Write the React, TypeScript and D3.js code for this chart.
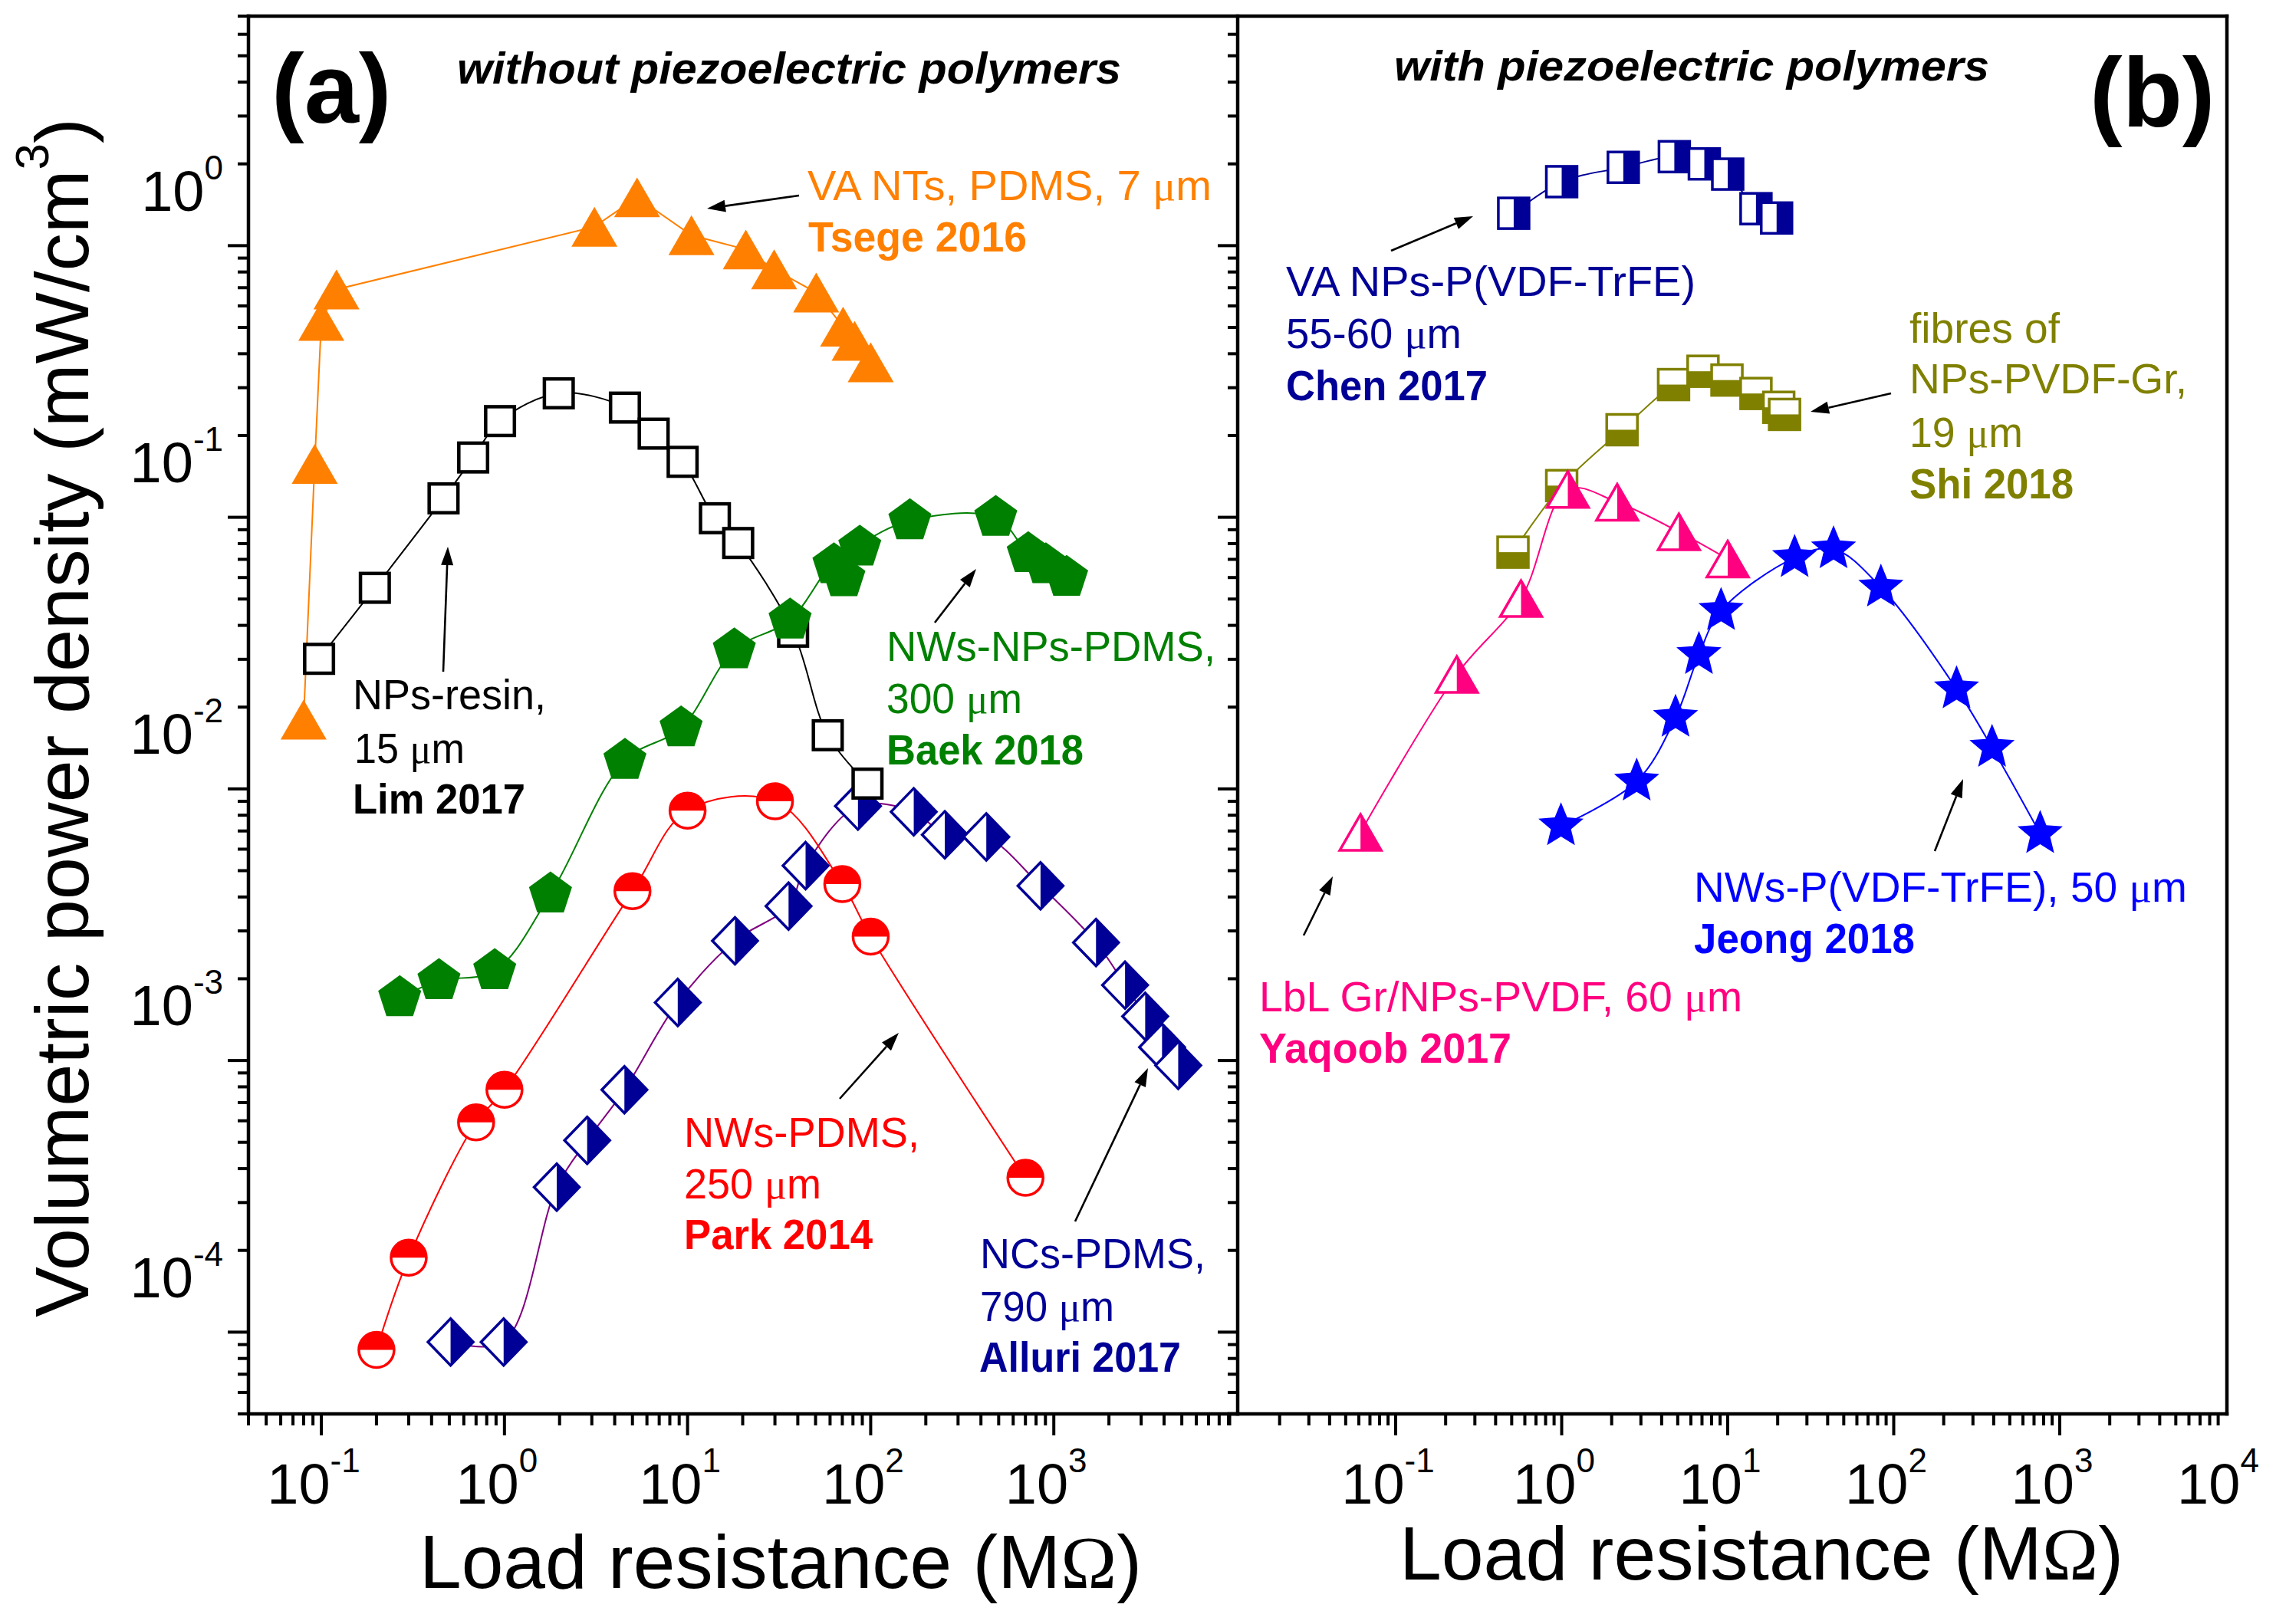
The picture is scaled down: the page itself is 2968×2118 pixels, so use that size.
import React from "react";
import * as d3 from "d3";

// ---------------- data: load resistance (MΩ) vs volumetric power density (mW/cm³) ----------------
// Panel (a) – without piezoelectric polymers
const tsegeX = [0.08, 0.092, 0.1, 0.121, 3.1, 5.3, 10.5, 20.8, 29.7, 50.4, 70.7, 81.7, 100];
const tsegeY = [0.009, 0.0786, 0.264, 0.345, 0.587, 0.753, 0.546, 0.484, 0.409, 0.336, 0.2515, 0.223, 0.186];

const limX = [0.0972, 0.196, 0.465, 0.675, 0.946, 1.98, 4.55, 6.53, 9.4, 14.1, 18.9, 37.7, 58.3, 96.1];
const limY = [0.01506, 0.0275, 0.0587, 0.083, 0.113, 0.143, 0.1267, 0.1016, 0.08, 0.0496, 0.0402, 0.01895, 0.00788, 0.00523];

const baekX = [0.268, 0.439, 0.885, 1.784, 4.55, 9.22, 18.0, 36.3, 63, 71.4, 87.2, 163.7, 482, 725, 905, 1175];
const baekY = [8.51e-4, 9.83e-4, 1.07e-3, 2.05e-3, 6.36e-3, 8.38e-3, 0.01624, 0.0209, 0.0334, 0.0299, 0.0388, 0.0485, 0.0499, 0.0367, 0.0334, 0.03];

const parkX = [0.2, 0.3, 0.7, 1.0, 5.0, 10, 30, 70, 100, 700];
const parkY = [4.3e-5, 9.4e-5, 2.96e-4, 3.9e-4, 2.1e-3, 4.16e-3, 4.5e-3, 2.23e-3, 1.43e-3, 1.85e-4];

const alluriX = [0.508, 0.99, 1.93, 2.83, 4.52, 8.84, 18.15, 35.6, 44.1, 85.2, 171.8, 254, 428, 846, 1700, 2450, 3155, 3900, 4780];
const alluriY = [4.6e-5, 4.6e-5, 1.71e-4, 2.54e-4, 3.9e-4, 8.18e-4, 1.38e-3, 1.85e-3, 2.61e-3, 4.32e-3, 4.12e-3, 3.39e-3, 3.33e-3, 2.2e-3, 1.36e-3, 9.47e-4, 7.27e-4, 5.6e-4, 4.8e-4];

// Panel (b) – with piezoelectric polymers
const chenX = [0.514, 1.0, 2.35, 4.77, 7.23, 10, 14.8, 19.7];
const chenY = [0.658, 0.86, 0.971, 1.063, 1.0, 0.917, 0.684, 0.632];

const shiX = [0.509, 1.0, 2.31, 4.72, 7.1, 9.9, 14.8, 20.3, 22.0];
const shiY = [0.0372, 0.0654, 0.105, 0.154, 0.1724, 0.16, 0.1428, 0.127, 0.1196];

const yaqoobX = [0.0614, 0.2335, 0.569, 1.089, 2.16, 5.08, 10];
const yaqoobY = [3.46e-3, 0.0132, 0.0251, 0.0633, 0.0568, 0.0442, 0.0351];

const jeongX = [0.99, 2.83, 4.85, 6.71, 9.12, 25.3, 43.4, 83.7, 239, 391, 762];
const jeongY = [3.65e-3, 5.33e-3, 9.16e-3, 0.0156, 0.02265, 0.0355, 0.0382, 0.0276, 0.01166, 7.1e-3, 3.42e-3];

// axes
const yDomain = [2.5e-5, 3.5];
const xDomainA = [0.04, 1e4];
const xDomainB = [0.01, 1e4];
const yTickMultipliers = [1, 1.5, 2, 2.5, 3, 3.5, 4, 4.5, 5];
const yTickExps = [-5, -4, -3, -2, -1, 0];
const yLabelExps = [0, -1, -2, -3, -4];
const xTickExps = [-2, -1, 0, 1, 2, 3];
const xLabelExpsA = [-1, 0, 1, 2, 3];
const xLabelExpsB = [-1, 0, 1, 2, 3, 4];

// ---------------- styles ----------------
const FONT = "'Liberation Sans', Arial, Helvetica, sans-serif";
const SERIF = "'Liberation Serif', 'Times New Roman', serif";
const ORANGE = "#FF8000";
const GREEN = "#008000";
const RED = "#FF0000";
const NAVY = "#000096";
const PURPLE = "#800080";
const OLIVE = "#808000";
const PINK = "#FF0080";
const BLUE = "#0000FF";

const W = 2968;
const H = 2118;
const TOP = 21;
const BOTTOM = 1844;
const LEFT_A = 324;
const DIV = 1614;
const RIGHT_B = 2904;

function polyPath(n: number, r: number, inner?: number) {
  const pts: string[] = [];
  const count = inner ? n * 2 : n;
  for (let i = 0; i < count; i++) {
    const rr = inner ? (i % 2 === 0 ? r : inner) : r;
    const a = -Math.PI / 2 + (i * 2 * Math.PI) / count;
    pts.push(`${(rr * Math.cos(a)).toFixed(2)},${(rr * Math.sin(a)).toFixed(2)}`);
  }
  return "M" + pts.join("L") + "Z";
}

function Marker({ kind, color, cx, cy }: { kind: string; color: string; cx: number; cy: number }) {
  const t = `translate(${cx},${cy})`;
  if (kind === "triangle") {
    const s = 60, h = (s * Math.sqrt(3)) / 2;
    return <path transform={t} d={`M0,${-h / 2}L${s / 2},${h / 2}L${-s / 2},${h / 2}Z`} fill={color} />;
  }
  if (kind === "triangleHalf") {
    const s = 54, h = (s * Math.sqrt(3)) / 2;
    const full = `M0,${-h / 2}L${s / 2},${h / 2}L${-s / 2},${h / 2}Z`;
    return (
      <g transform={t}>
        <path d={full} fill="#fff" />
        <path d={`M0,${-h / 2}L${s / 2},${h / 2}L0,${h / 2}Z`} fill={color} />
        <path d={full} fill="none" stroke={color} strokeWidth={3.5} />
      </g>
    );
  }
  if (kind === "squareOpen") {
    const s = 37.5;
    return <rect transform={t} x={-s / 2} y={-s / 2} width={s} height={s} fill="#fff" stroke={color} strokeWidth={4.5} />;
  }
  if (kind === "squareRight" || kind === "squareBottom") {
    const s = 40;
    return (
      <g transform={t}>
        <rect x={-s / 2} y={-s / 2} width={s} height={s} fill="#fff" />
        {kind === "squareRight" ? (
          <rect x={0} y={-s / 2} width={s / 2} height={s} fill={color} />
        ) : (
          <rect x={-s / 2} y={0} width={s} height={s / 2} fill={color} />
        )}
        <rect x={-s / 2} y={-s / 2} width={s} height={s} fill="none" stroke={color} strokeWidth={3.5} />
      </g>
    );
  }
  if (kind === "circleTop") {
    const r = 23;
    return (
      <g transform={t}>
        <circle r={r} fill="#fff" />
        <path d={`M${-r},0A${r},${r} 0 0 1 ${r},0Z`} fill={color} />
        <circle r={r} fill="none" stroke={color} strokeWidth={3.5} />
      </g>
    );
  }
  if (kind === "diamondRight") {
    const hw = 29.5, hh = 30.5;
    const full = `M0,${-hh}L${hw},0L0,${hh}L${-hw},0Z`;
    return (
      <g transform={t}>
        <path d={full} fill="#fff" />
        <path d={`M0,${-hh}L${hw},0L0,${hh}Z`} fill={color} />
        <path d={full} fill="none" stroke={color} strokeWidth={3.5} />
      </g>
    );
  }
  if (kind === "pentagon") {
    return <path transform={t} d={polyPath(5, 29.5)} fill={color} />;
  }
  if (kind === "star") {
    return <path transform={t} d={polyPath(5, 31, 13.8)} fill={color} />;
  }
  return null;
}

function Arrow({ x1, y1, x2, y2 }: { x1: number; y1: number; x2: number; y2: number }) {
  const ang = Math.atan2(y2 - y1, x2 - x1);
  const L = 24, w = 8;
  const bx = x2 - L * Math.cos(ang), by = y2 - L * Math.sin(ang);
  const px = -Math.sin(ang) * w, py = Math.cos(ang) * w;
  return (
    <g>
      <line x1={x1} y1={y1} x2={bx} y2={by} stroke="#000" strokeWidth={2.6} />
      <path d={`M${x2},${y2}L${bx + px},${by + py}L${bx - px},${by - py}Z`} fill="#000" />
    </g>
  );
}

function Note({ x, y, text, color, bold, len }: { x: number; y: number; text: string; color: string; bold?: boolean; len: number }) {
  const parts = text.split("μ");
  return (
    <text
      x={x}
      y={y}
      fill={color}
      fontFamily={FONT}
      fontSize={55}
      fontWeight={bold ? "bold" : "normal"}
      textLength={len}
      lengthAdjust="spacingAndGlyphs"
    >
      {parts.length === 1
        ? text
        : parts.map((p, i) => (
            <React.Fragment key={i}>
              {i > 0 && <tspan fontFamily={SERIF}>μ</tspan>}
              {p}
            </React.Fragment>
          ))}
    </text>
  );
}

export default function App() {
  const yS = d3.scaleLog().domain(yDomain).range([BOTTOM, TOP]);
  const xA = d3.scaleLog().domain(xDomainA).range([LEFT_A, 1613]);
  const xB = d3.scaleLog().domain(xDomainB).range([1603.5, 2902.5]);

  const seriesA = [
    { xs: alluriX, ys: alluriY, line: PURPLE, kind: "diamondRight", color: NAVY, smooth: true },
    { xs: parkX, ys: parkY, line: RED, kind: "circleTop", color: RED, smooth: true },
    { xs: limX, ys: limY, line: "#000", kind: "squareOpen", color: "#000", smooth: true },
    { xs: baekX, ys: baekY, line: GREEN, kind: "pentagon", color: GREEN, smooth: true },
    { xs: tsegeX, ys: tsegeY, line: ORANGE, kind: "triangle", color: ORANGE, smooth: false },
  ];
  const seriesB = [
    { xs: chenX, ys: chenY, line: NAVY, kind: "squareRight", color: NAVY, smooth: true },
    { xs: shiX, ys: shiY, line: OLIVE, kind: "squareBottom", color: OLIVE, smooth: true },
    { xs: yaqoobX, ys: yaqoobY, line: PINK, kind: "triangleHalf", color: PINK, smooth: true },
    { xs: jeongX, ys: jeongY, line: BLUE, kind: "star", color: BLUE, smooth: true },
  ];

  const lineFor = (xs: any, smooth: boolean) =>
    d3
      .line<[number, number]>()
      .x((d) => xs(d[0]))
      .y((d) => yS(d[1]))
      .curve(smooth ? d3.curveCatmullRom.alpha(0.5) : d3.curveLinear);

  const renderSeries = (list: any[], xs: any, pfx: string) => (
    <g>
      {list.map((s, i) => (
        <path
          key={`${pfx}l${i}`}
          d={lineFor(xs, s.smooth)(s.xs.map((x: number, j: number) => [x, s.ys[j]])) || ""}
          fill="none"
          stroke={s.line}
          strokeWidth={2}
        />
      ))}
      {list.map((s, i) => (
        <g key={`${pfx}m${i}`}>
          {s.xs.map((x: number, j: number) => (
            <Marker key={j} kind={s.kind} color={s.color} cx={xs(x)} cy={yS(s.ys[j])} />
          ))}
        </g>
      ))}
    </g>
  );

  // y ticks
  const yTicks: { v: number; major: boolean }[] = [];
  yTickExps.forEach((e) =>
    yTickMultipliers.forEach((k) => {
      const v = k * Math.pow(10, e);
      if (v >= yDomain[0] * 0.999 && v <= yDomain[1] * 1.001) yTicks.push({ v, major: k === 5 });
    })
  );
  // x ticks
  const xTicks = (dom: number[]) => {
    const out: { v: number; major: boolean }[] = [];
    xTickExps.forEach((e) => {
      for (let k = 1; k <= 9; k++) {
        const v = k * Math.pow(10, e);
        if (v >= dom[0] * 0.999 && v <= dom[1] * 1.001) out.push({ v, major: k === 1 && v > dom[0] * 1.001 });
      }
    });
    return out;
  };

  const tickLabel = (e: number) => (
    <>
      10<tspan dy={-41} fontSize={44}>{e}</tspan>
    </>
  );

  return (
    <svg width={W} height={H} viewBox={`0 0 ${W} ${H}`} style={{ position: "absolute", left: 0, top: 0, background: "#fff" }}>
      <rect x={0} y={0} width={W} height={H} fill="#fff" />

      {/* data */}
      {renderSeries(seriesA, xA, "a")}
      {renderSeries(seriesB, xB, "b")}

      {/* frames */}
      <g stroke="#000" strokeWidth={4.5} fill="none" strokeLinecap="square">
        <line x1={LEFT_A} y1={TOP} x2={RIGHT_B} y2={TOP} />
        <line x1={LEFT_A} y1={BOTTOM} x2={RIGHT_B} y2={BOTTOM} />
        <line x1={LEFT_A} y1={TOP} x2={LEFT_A} y2={BOTTOM} />
        <line x1={DIV} y1={TOP} x2={DIV} y2={BOTTOM} />
        <line x1={RIGHT_B} y1={TOP} x2={RIGHT_B} y2={BOTTOM} />
        <line x1={1603} y1={BOTTOM} x2={DIV} y2={BOTTOM} />
      </g>

      {/* y ticks: left of panel a (outward) and right of panel a (inward) */}
      <g stroke="#000" strokeWidth={4}>
        {yTicks.map((t, i) => (
          <g key={i}>
            <line x1={LEFT_A - (t.major ? 27 : 14)} x2={LEFT_A} y1={yS(t.v)} y2={yS(t.v)} />
            <line x1={DIV - (t.major ? 26 : 13)} x2={DIV} y1={yS(t.v)} y2={yS(t.v)} />
          </g>
        ))}
      </g>

      {/* x ticks */}
      <g stroke="#000" strokeWidth={4}>
        {xTicks(xDomainA).map((t, i) => (
          <line key={"xa" + i} x1={xA(t.v)} x2={xA(t.v)} y1={BOTTOM} y2={BOTTOM + (t.major ? 28 : 15)} />
        ))}
        {xTicks(xDomainB).map((t, i) => (
          <line key={"xb" + i} x1={xB(t.v)} x2={xB(t.v)} y1={BOTTOM} y2={BOTTOM + (t.major ? 28 : 15)} />
        ))}
      </g>

      {/* tick labels */}
      <g fontFamily={FONT} fontSize={74} fill="#000">
        {yLabelExps.map((e) => (
          <text key={"yl" + e} x={291} y={yS(Math.pow(10, e)) + 61} textAnchor="end">
            {tickLabel(e)}
          </text>
        ))}
        {xLabelExpsA.map((e) => (
          <text key={"xla" + e} x={xA(Math.pow(10, e)) - 10} y={1961} textAnchor="middle">
            {tickLabel(e)}
          </text>
        ))}
        {xLabelExpsB.map((e) => (
          <text key={"xlb" + e} x={xB(Math.pow(10, e)) - 10} y={1961} textAnchor="middle">
            {tickLabel(e)}
          </text>
        ))}
      </g>

      {/* axis titles */}
      <text
        transform="translate(115,936) rotate(-90)"
        textAnchor="middle"
        fontFamily={FONT}
        fontSize={99}
        fill="#000"
      >
        Volumetric power density (mW/cm<tspan dy={-52} fontSize={62}>3</tspan>
        <tspan dy={52}>)</tspan>
      </text>
      <text x={547} y={2071} fontFamily={FONT} fontSize={98} textLength={942} lengthAdjust="spacingAndGlyphs">
        Load resistance (M<tspan fontFamily={SERIF}>Ω</tspan>)
      </text>
      <text x={1825} y={2060} fontFamily={FONT} fontSize={98} textLength={944} lengthAdjust="spacingAndGlyphs">
        Load resistance (M<tspan fontFamily={SERIF}>Ω</tspan>)
      </text>

      {/* panel titles */}
      <text x={354} y={160} fontFamily={FONT} fontSize={128} fontWeight="bold">(a)</text>
      <text x={2725} y={165} fontFamily={FONT} fontSize={128} fontWeight="bold">(b)</text>
      <text x={596} y={109} fontFamily={FONT} fontSize={58} fontWeight="bold" fontStyle="italic" textLength={866} lengthAdjust="spacingAndGlyphs">
        without piezoelectric polymers
      </text>
      <text x={1818} y={105} fontFamily={FONT} fontSize={56} fontWeight="bold" fontStyle="italic" textLength={776} lengthAdjust="spacingAndGlyphs">
        with piezoelectric polymers
      </text>

      {/* annotations panel a */}
      <Note x={1053} y={261} text="VA NTs, PDMS, 7 μm" color={ORANGE} len={527} />
      <Note x={1054} y={328} text="Tsege 2016" color={ORANGE} bold len={285} />
      <Arrow x1={1042} y1={255} x2={922} y2={272} />

      <Note x={460} y={925} text="NPs-resin," color="#000" len={252} />
      <Note x={462} y={995} text="15 μm" color="#000" len={144} />
      <Note x={460} y={1061} text="Lim 2017" color="#000" bold len={225} />
      <Arrow x1={578} y1={876} x2={584} y2={713} />

      <Note x={1156} y={862} text="NWs-NPs-PDMS," color={GREEN} len={429} />
      <Note x={1156} y={930} text="300 μm" color={GREEN} len={177} />
      <Note x={1156} y={997} text="Baek 2018" color={GREEN} bold len={257} />
      <Arrow x1={1219} y1={812} x2={1273} y2={742} />

      <Note x={892} y={1496} text="NWs-PDMS," color={RED} len={307} />
      <Note x={892} y={1563} text="250 μm" color={RED} len={179} />
      <Note x={892} y={1629} text="Park 2014" color={RED} bold len={246} />
      <Arrow x1={1095} y1={1433} x2={1172} y2={1347} />

      <Note x={1278} y={1654} text="NCs-PDMS," color={NAVY} len={294} />
      <Note x={1278} y={1723} text="790 μm" color={NAVY} len={175} />
      <Note x={1277} y={1789} text="Alluri 2017" color={NAVY} bold len={263} />
      <Arrow x1={1402} y1={1593} x2={1497} y2={1393} />

      {/* annotations panel b */}
      <Note x={1677} y={386} text="VA NPs-P(VDF-TrFE)" color={NAVY} len={534} />
      <Note x={1677} y={454} text="55-60 μm" color={NAVY} len={229} />
      <Note x={1677} y={522} text="Chen 2017" color={NAVY} bold len={263} />
      <Arrow x1={1814} y1={327} x2={1921} y2={282} />

      <Note x={2490} y={447} text="fibres of" color={OLIVE} len={196} />
      <Note x={2490} y={513} text="NPs-PVDF-Gr," color={OLIVE} len={362} />
      <Note x={2490} y={583} text="19 μm" color={OLIVE} len={148} />
      <Note x={2490} y={650} text="Shi 2018" color={OLIVE} bold len={214} />
      <Arrow x1={2466} y1={513} x2={2361} y2={537} />

      <Note x={2209} y={1176} text="NWs-P(VDF-TrFE), 50 μm" color={BLUE} len={643} />
      <Note x={2209} y={1243} text="Jeong 2018" color={BLUE} bold len={288} />
      <Arrow x1={2523} y1={1110} x2={2560} y2={1016} />

      <Note x={1642} y={1319} text="LbL Gr/NPs-PVDF, 60 μm" color={PINK} len={630} />
      <Note x={1642} y={1386} text="Yaqoob 2017" color={PINK} bold len={329} />
      <Arrow x1={1700} y1={1220} x2={1738} y2={1143} />
    </svg>
  );
}
